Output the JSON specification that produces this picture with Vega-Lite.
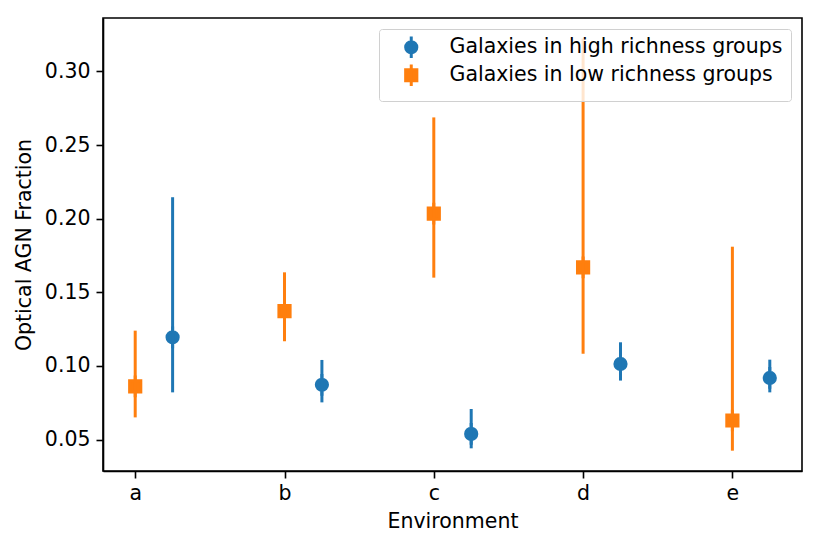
{
  "$schema": "https://vega.github.io/schema/vega-lite/v6.json",
  "autosize": {"type": "none"},
  "width": 699,
  "height": 453,
  "padding": {"left": 103, "top": 18, "right": 18, "bottom": 78},
  "background": "white",
  "data": {
    "values": [
      {"env": "a", "group": "Galaxies in low richness groups", "frac": 0.0862, "lo": 0.0651, "hi": 0.1240},
      {"env": "b", "group": "Galaxies in low richness groups", "frac": 0.1372, "lo": 0.1168, "hi": 0.1636},
      {"env": "c", "group": "Galaxies in low richness groups", "frac": 0.2035, "lo": 0.1600, "hi": 0.2688},
      {"env": "d", "group": "Galaxies in low richness groups", "frac": 0.1670, "lo": 0.1084, "hi": 0.3224},
      {"env": "e", "group": "Galaxies in low richness groups", "frac": 0.0630, "lo": 0.0425, "hi": 0.1810},
      {"env": "a", "group": "Galaxies in high richness groups", "frac": 0.1195, "lo": 0.0821, "hi": 0.2146},
      {"env": "b", "group": "Galaxies in high richness groups", "frac": 0.0872, "lo": 0.0753, "hi": 0.1041},
      {"env": "c", "group": "Galaxies in high richness groups", "frac": 0.0539, "lo": 0.0441, "hi": 0.0708},
      {"env": "d", "group": "Galaxies in high richness groups", "frac": 0.1014, "lo": 0.0901, "hi": 0.1161},
      {"env": "e", "group": "Galaxies in high richness groups", "frac": 0.0919, "lo": 0.0821, "hi": 0.1043}
    ]
  },
  "encoding": {
    "x": {
      "field": "env",
      "type": "nominal",
      "scale": {"type": "point", "padding": 0.341},
      "axis": {"title": "Environment", "labelAngle": 0, "tickOffset": -18.7, "labelPadding": 5, "titlePadding": 8}
    },
    "xOffset": {
      "field": "group",
      "type": "nominal",
      "scale": {"type": "point", "padding": 0, "domain": ["Galaxies in low richness groups", "Galaxies in high richness groups"], "range": [-18.7, 18.7]}
    },
    "color": {
      "field": "group",
      "type": "nominal",
      "scale": {"domain": ["Galaxies in high richness groups", "Galaxies in low richness groups"], "range": ["#1f77b4", "#ff7f0e"]},
      "legend": {
        "title": null,
        "orient": "top-right",
        "offset": 11,
        "padding": 8,
        "symbolOffset": 14,
        "labelOffset": 28,
        "rowPadding": -8,
        "symbolSize": 196,
        "symbolStrokeWidth": 3,
        "fillColor": "rgba(255,255,255,0.8)",
        "strokeColor": "#d0d0d0",
        "cornerRadius": 3,
        "labelFontSize": 20.5,
        "labelFont": "DejaVu Sans",
        "labelColor": "black",
        "labelLimit": 500
      }
    }
  },
  "layer": [
    {
      "mark": {"type": "rule", "strokeWidth": 3},
      "encoding": {
        "y": {
          "field": "lo",
          "type": "quantitative",
          "scale": {"domain": [0.0287, 0.3363], "nice": false, "zero": false},
          "axis": {"title": "Optical AGN Fraction", "values": [0.05, 0.10, 0.15, 0.20, 0.25, 0.30], "format": ".2f", "labelPadding": 6, "titlePadding": 10}
        },
        "y2": {"field": "hi"}
      }
    },
    {
      "mark": {"type": "point", "filled": true, "opacity": 1, "size": 196, "strokeWidth": 3},
      "encoding": {
        "y": {"field": "frac", "type": "quantitative"},
        "shape": {
          "field": "group",
          "type": "nominal",
          "scale": {
            "domain": ["Galaxies in high richness groups", "Galaxies in low richness groups"],
            "range": [
              "M-0.8,0A0.8,0.8 0 1,1 0.8,0A0.8,0.8 0 1,1 -0.8,0Z M0,-1.55L0,1.55",
              "M-0.8,-0.8H0.8V0.8H-0.8Z M0,-1.55L0,1.55"
            ]
          }
        },
        "stroke": {
          "field": "group",
          "type": "nominal",
          "scale": {"domain": ["Galaxies in high richness groups", "Galaxies in low richness groups"], "range": ["#1f77b4", "#ff7f0e"]}
        }
      }
    }
  ],
  "config": {
    "font": "DejaVu Sans",
    "view": {"stroke": "black", "strokeWidth": 1.6},
    "axis": {
      "grid": false,
      "domainColor": "black",
      "domainWidth": 1.6,
      "tickColor": "black",
      "tickWidth": 1.6,
      "tickSize": 7,
      "labelFont": "DejaVu Sans",
      "labelFontSize": 20.5,
      "labelColor": "black",
      "titleFont": "DejaVu Sans",
      "titleFontSize": 20.5,
      "titleFontWeight": "normal",
      "titleColor": "black"
    }
  }
}
